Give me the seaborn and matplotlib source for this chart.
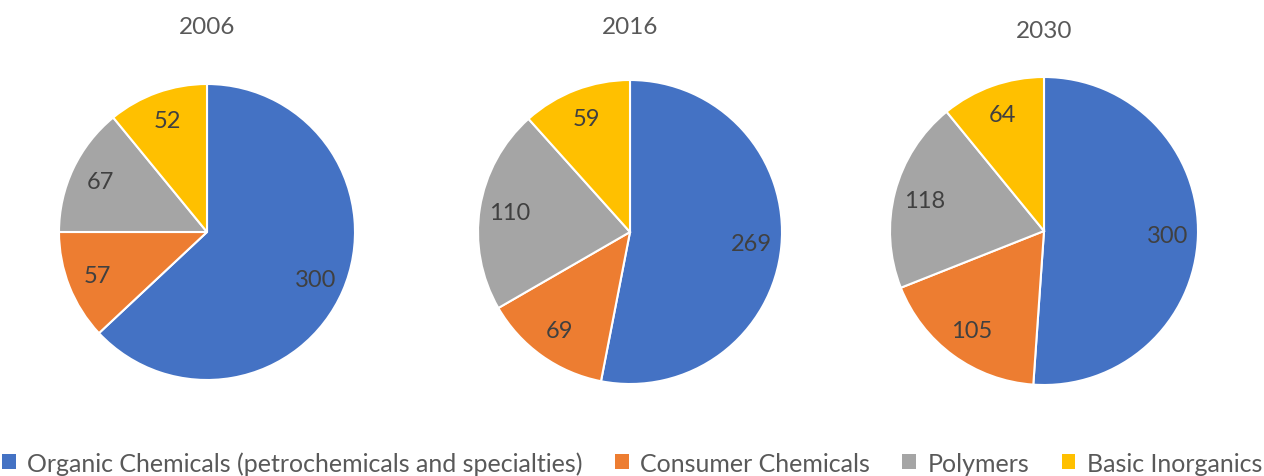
import matplotlib
matplotlib.use("Agg")
import matplotlib.pyplot as plt
import seaborn as sns
from matplotlib.patches import Patch

sns.set_theme(style="white")
plt.rcParams['font.family'] = ['Lato', 'DejaVu Sans']

categories = ["Organic Chemicals (petrochemicals and specialties)",
              "Consumer Chemicals", "Polymers", "Basic Inorganics"]
years = ["2006", "2016", "2030"]
values_2006 = [300, 57, 67, 52]
values_2016 = [269, 69, 110, 59]
values_2030 = [300, 105, 118, 64]
colors = ["#4472C4", "#ED7D31", "#A5A5A5", "#FFC000"]

W, H = 1264, 477
fig = plt.figure(figsize=(W / 100, H / 100), dpi=100)
fig.patch.set_facecolor("white")

# (center x, center y from top, radius, title y from top) in pixels
layout = [(207, 233, 148, 28), (630, 233, 152, 28), (1044, 232, 154, 31)]
series = [values_2006, values_2016, values_2030]

for (cx, cy, r, ty), vals, yr in zip(layout, series, years):
    ax = fig.add_axes([(cx - r) / W, (H - cy - r) / H, 2 * r / W, 2 * r / H])
    total = sum(vals)
    ax.pie(
        vals, colors=colors, startangle=90, counterclock=False, radius=1,
        wedgeprops=dict(edgecolor="white", linewidth=1.5),
        autopct=lambda p, t=total: f"{round(p * t / 100):d}", pctdistance=0.8,
        textprops=dict(color="#404040", fontsize=17))
    ax.set_xlim(-1, 1)
    ax.set_ylim(-1, 1)
    ax.set_aspect("equal")
    ax.axis("off")
    fig.text(cx / W, 1 - ty / H, yr, ha="center", va="center",
             fontsize=17.5, color="#595959")

handles = [Patch(facecolor=c, edgecolor="none") for c in colors]
fig.legend(handles, categories, loc="center", bbox_to_anchor=(0.5, 1 - 464 / H),
           ncol=4, frameon=False, fontsize=18, handlelength=0.55, handleheight=0.55,
           handletextpad=0.45, columnspacing=1.3, labelcolor="#595959",
           borderaxespad=0, borderpad=0)

fig.savefig("out.png", dpi=100, facecolor="white")
